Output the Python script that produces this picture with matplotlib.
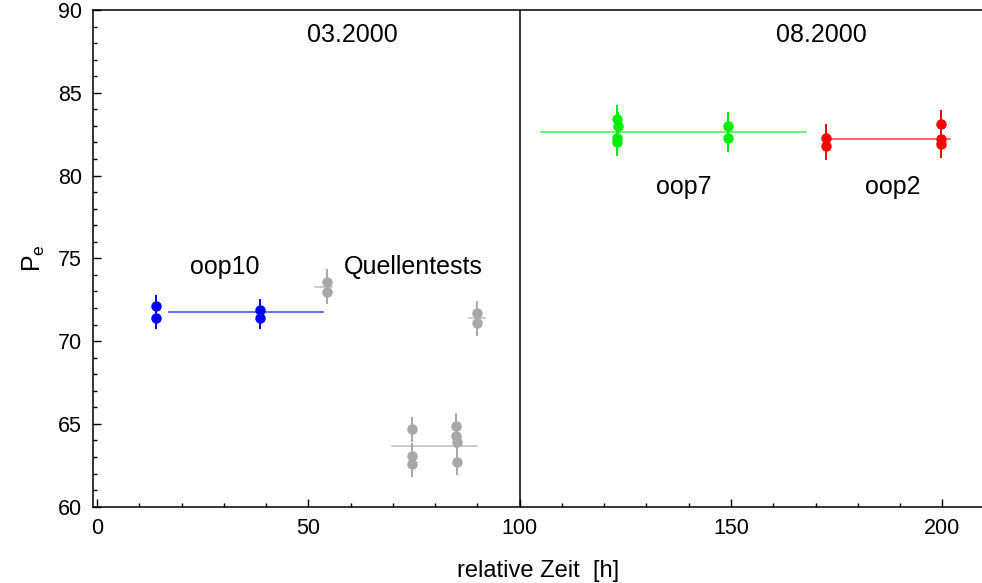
import matplotlib
matplotlib.use("Agg")
import matplotlib.pyplot as plt
from matplotlib.ticker import MultipleLocator

plt.rcParams['font.family'] = ['Liberation Sans', 'DejaVu Sans']

# ---- data ----
oop10_x = [13.9, 13.9, 38.5, 38.5]
oop10_y = [72.13, 71.38, 71.88, 71.38]
oop10_err = 0.65
oop10_mean = [16.9, 53.4, 71.78]   # x_start, x_end, level

quelle_x = [54.5, 54.5, 90.0, 90.0, 74.6, 74.6, 74.6, 84.85, 84.85, 85.2, 85.2]
quelle_y = [73.59, 72.99, 71.68, 71.08, 64.68, 63.07, 62.57, 64.88, 64.28, 63.89, 62.69]
quelle_err = 0.75
quelle_means = [[51.6, 55.6, 73.29], [88.0, 91.9, 71.38], [69.8, 89.9, 63.67]]

oop7_x = [123.0, 123.3, 123.0, 123.1, 149.3, 149.3]
oop7_y = [83.40, 83.00, 82.29, 82.01, 83.00, 82.29]
oop7_err = 0.85
oop7_mean = [105.1, 167.7, 82.65]

oop2_x = [172.6, 172.6, 199.7, 199.8, 199.8]
oop2_y = [82.29, 81.79, 83.10, 82.19, 81.91]
oop2_err = 0.85
oop2_mean = [172.6, 201.9, 82.23]

labels = ["03.2000", "08.2000", "oop10", "Quellentests", "oop7", "oop2"]
label_pos = [(60.4, 88.5), (171.5, 88.5), (30.2, 74.45), (74.8, 74.45), (138.8, 79.3), (188.3, 79.3)]

# ---- figure ----
fig = plt.figure(figsize=(9.82, 5.83), dpi=100)
ax = fig.add_axes([93.3/982, 1-506.7/583, 1-93.3/982, (506.7-10)/583])

def series(xs, ys, err, color, means):
    for x0, x1, lev in means:
        ax.plot([x0, x1], [lev, lev], color=color, lw=1.1, alpha=0.75, zorder=2)
    ax.errorbar(xs, ys, yerr=err, fmt='o', color=color, ms=6.5, elinewidth=1.4,
                capsize=0, zorder=3)

series(oop10_x, oop10_y, oop10_err, '#0000ff', [oop10_mean])
series(quelle_x, quelle_y, quelle_err, '#a8a8a8', quelle_means)
series(oop7_x, oop7_y, oop7_err, '#00ee00', [oop7_mean])
series(oop2_x, oop2_y, oop2_err, '#ff0000', [oop2_mean])

ax.axvline(100, color='black', lw=1.1, zorder=1)

for t, (x, y) in zip(labels, label_pos):
    ax.text(x, y, t, ha='center', va='center', fontsize=18)

ax.set_xlim(-0.9, 209.4)
ax.set_ylim(60, 90)
ax.xaxis.set_major_locator(MultipleLocator(50))
ax.xaxis.set_minor_locator(MultipleLocator(10))
ax.yaxis.set_major_locator(MultipleLocator(5))
ax.yaxis.set_minor_locator(MultipleLocator(1))
ax.tick_params(which='both', direction='in', top=False, right=False, labelsize=15.5, width=1.0)
ax.tick_params(which='major', length=6, pad=8)
ax.tick_params(which='minor', length=3)
ax.spines['right'].set_visible(False)
for s in ['left', 'bottom', 'top']:
    ax.spines[s].set_linewidth(1.1)

ax.set_xlabel('relative Zeit  [h]', fontsize=17, labelpad=15)
ax.set_ylabel(r'$\mathregular{P_e}$', fontsize=18, labelpad=8)

fig.savefig('out.png', dpi=100)
